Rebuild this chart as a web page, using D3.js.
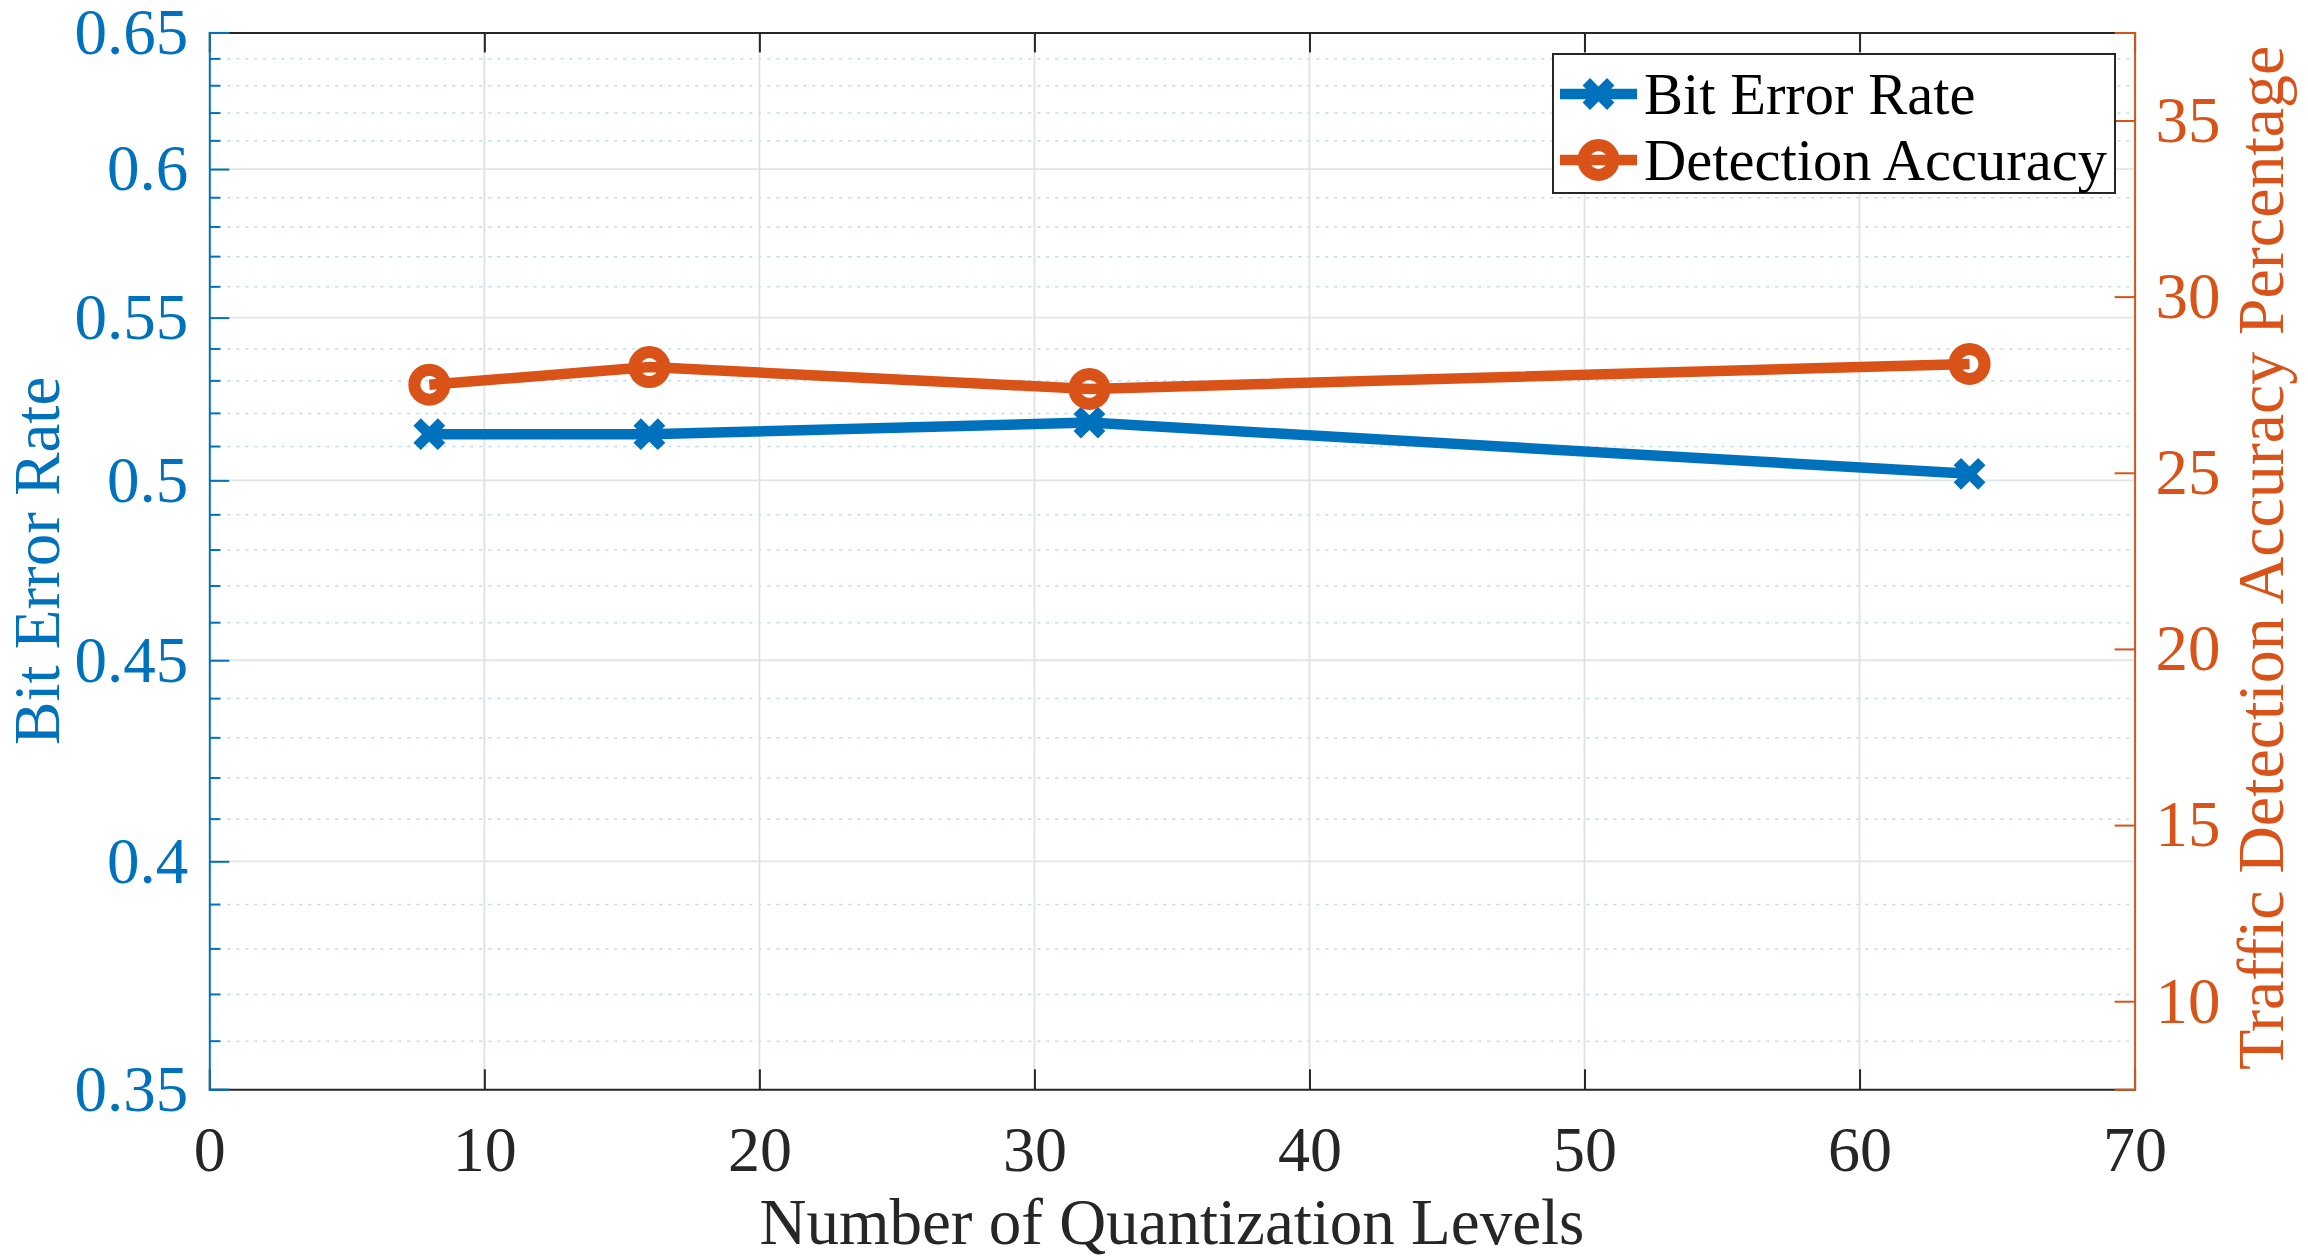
<!DOCTYPE html>
<html><head><meta charset="utf-8">
<script src="https://cdn.jsdelivr.net/npm/d3@7"></script>
<style>body{margin:0;background:#fff}svg{display:block}text{font-family:"Liberation Serif","Times New Roman",serif}</style>
</head><body><svg id="c" width="2308" height="1259"></svg>
<script>
const levels=[8,16,32,64];
const ber=[0.5137,0.5137,0.5172,0.5019];
const accuracy=[27.5,28.0,27.38,28.09];
const xTicks=[0,10,20,30,40,50,60,70];
const leftTicks=[0.35,0.4,0.45,0.5,0.55,0.6,0.65];
const leftTickLabels=["0.35","0.4","0.45","0.5","0.55","0.6","0.65"];
const leftMinor=[0.36,0.37,0.38,0.39,0.41,0.42,0.43,0.44,0.46,0.47,0.48,0.49,0.51,0.52,0.53,0.54,0.56,0.57,0.58,0.59,0.61,0.62,0.63,0.64];
const rightTicks=[10,15,20,25,30,35];
const seriesNames=["Bit Error Rate","Detection Accuracy"];

const BLUE="#0072BD", ORANGE="#D95319", DARK="#262626";
const L=209.3,R=2134.6,T=32.4,B=1089.3;
const svg=d3.select("#c");
svg.append("rect").attr("width",2308).attr("height",1259).attr("fill","#fff");
const x=d3.scaleLinear().domain([0,70]).range([L,R]);
const yL=d3.scaleLog().domain([0.35,0.65]).range([B,T]);
const yR=d3.scaleLinear().domain([7.5,37.5]).range([B,T]);

// grid
const g=svg.append("g");
g.selectAll(".mn").data(leftMinor).join("line")
 .attr("x1",L).attr("x2",R).attr("y1",d=>yL(d)).attr("y2",d=>yL(d))
 .attr("stroke","#bcdcf0").attr("stroke-width",1.5).attr("stroke-dasharray","3,6");
g.selectAll(".mj").data(leftTicks.slice(1,-1)).join("line")
 .attr("x1",L).attr("x2",R).attr("y1",d=>yL(d)).attr("y2",d=>yL(d))
 .attr("stroke","#e0e5ea").attr("stroke-width",1.8);
g.selectAll(".vx").data(xTicks.slice(1,-1)).join("line")
 .attr("y1",T).attr("y2",B).attr("x1",d=>x(d)).attr("x2",d=>x(d))
 .attr("stroke","#dfe1e4").attr("stroke-width",1.8);

// axes
const ax=svg.append("g");
const xb=d3.axisBottom(x).tickValues(xTicks).tickSize(-20).tickFormat(d3.format("d")).tickPadding(36);
const gxb=ax.append("g").attr("transform",`translate(0,${B})`).call(xb);
const gxt=ax.append("g").attr("transform",`translate(0,${T})`).call(d3.axisTop(x).tickValues(xTicks).tickSize(-20).tickFormat(""));
[gxb,gxt].forEach(s=>{s.select(".domain").attr("stroke",DARK).attr("stroke-width",2);s.selectAll(".tick line").attr("stroke",DARK).attr("stroke-width",2);});
gxb.selectAll(".tick text").attr("fill",DARK).attr("font-size",64).attr("font-family","Liberation Serif");
gxb.selectAll(".tick").filter(d=>d===0||d===70).select("line").remove();
gxt.selectAll(".tick").filter(d=>d===0||d===70).select("line").remove();

// left axis
const gl=ax.append("g").attr("transform",`translate(${L},0)`);
gl.call(d3.axisLeft(yL).tickValues(leftTicks).tickSize(-20).tickPadding(21).tickFormat((d,i)=>leftTickLabels[i]));
gl.select(".domain").attr("stroke",BLUE).attr("stroke-width",2);
gl.selectAll(".tick line").attr("stroke",BLUE).attr("stroke-width",2);
gl.selectAll(".tick text").attr("fill",BLUE).attr("font-size",65).attr("font-family","Liberation Serif");
gl.selectAll(".mt").data(leftMinor).join("line").attr("x1",0).attr("x2",11)
 .attr("y1",d=>yL(d)).attr("y2",d=>yL(d)).attr("stroke",BLUE).attr("stroke-width",2);

// right axis
const gr=ax.append("g").attr("transform",`translate(${R},0)`);
gr.call(d3.axisRight(yR).tickValues(rightTicks).tickSize(-20).tickPadding(21).tickFormat(d3.format("d")));
gr.select(".domain").attr("stroke",ORANGE).attr("stroke-width",2);
gr.selectAll(".tick line").attr("stroke",ORANGE).attr("stroke-width",2);
gr.selectAll(".tick text").attr("fill",ORANGE).attr("font-size",65).attr("font-family","Liberation Serif");

// labels
svg.append("text").attr("x",(L+R)/2).attr("y",1244).attr("text-anchor","middle")
 .attr("font-size",65).attr("fill",DARK).text("Number of Quantization Levels");
svg.append("text").attr("transform",`translate(59,${(T+B)/2}) rotate(-90)`).attr("text-anchor","middle")
 .attr("font-size",65).attr("fill",BLUE).text("Bit Error Rate");
svg.append("text").attr("transform",`translate(2283,${(T+B)/2 - 3}) rotate(-90)`).attr("text-anchor","middle")
 .attr("font-size",66).attr("fill",ORANGE).text("Traffic Detection Accuracy Percentage");

// markers
function xMarker(sel,color){
  sel.append("path").attr("d","M-8.5,-8.5L8.5,8.5M-8.5,8.5L8.5,-8.5").attr("stroke",color).attr("stroke-width",10.5)
   .attr("stroke-linecap","square").attr("fill","none");
}
function oMarker(sel,color){
  sel.append("circle").attr("r",15).attr("stroke",color).attr("stroke-width",12).attr("fill","none");
}
const berPts=levels.map((l,i)=>[x(l),yL(ber[i])]);
const accPts=levels.map((l,i)=>[x(l),yR(accuracy[i])]);
const line=d3.line();
const data=svg.append("g");
berPts.forEach(p=>xMarker(data.append("g").attr("transform",`translate(${p})`),BLUE));
data.append("path").attr("d",line(berPts)).attr("stroke",BLUE).attr("stroke-width",10.5).attr("fill","none");
accPts.forEach(p=>oMarker(data.append("g").attr("transform",`translate(${p})`),ORANGE));
data.append("path").attr("d",line(accPts)).attr("stroke",ORANGE).attr("stroke-width",10.5).attr("fill","none");

// legend
const lg=svg.append("g");
lg.append("rect").attr("x",1553).attr("y",54).attr("width",562).attr("height",139)
 .attr("fill","#fff").attr("stroke",DARK).attr("stroke-width",2);
const rows=[{y:94,c:BLUE,m:xMarker},{y:160,c:ORANGE,m:oMarker}];
rows.forEach((r,i)=>{
  lg.append("line").attr("x1",1560).attr("x2",1637).attr("y1",r.y).attr("y2",r.y).attr("stroke",r.c).attr("stroke-width",10.5);
  r.m(lg.append("g").attr("transform",`translate(1598.5,${r.y})`),r.c);
  lg.append("text").attr("x",1644).attr("y",r.y+20).attr("font-size",58.5).attr("fill","#000").text(seriesNames[i]);
});
</script></body></html>
